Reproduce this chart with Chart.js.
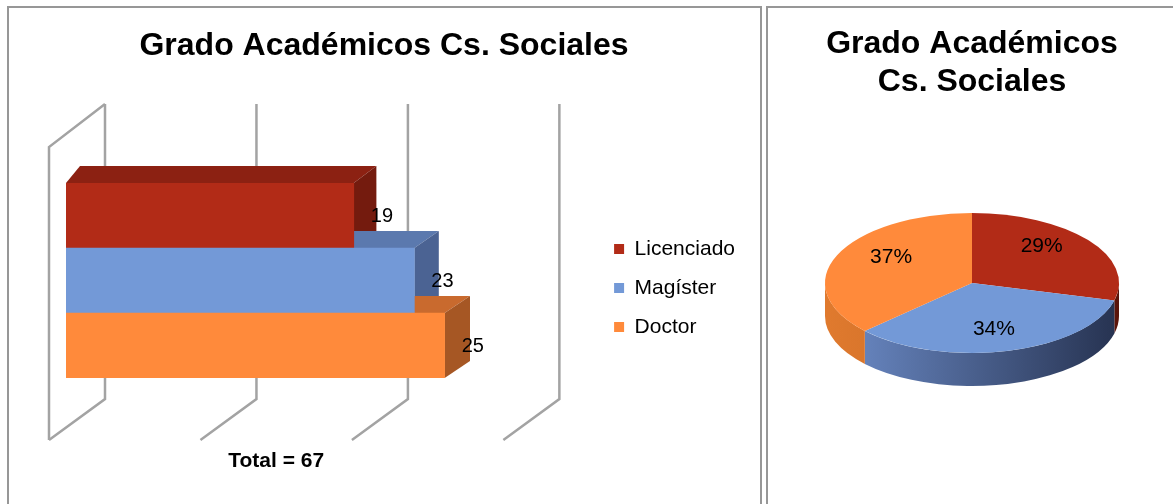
<!DOCTYPE html>
<html>
<head>
<meta charset="utf-8">
<script src="https://cdn.jsdelivr.net/npm/chart.js@4.4.1/dist/chart.umd.min.js"></script>
<style>
  html, body { margin: 0; padding: 0; background: #fff; }
  body { width: 1173px; height: 504px; position: relative; overflow: hidden; }
  .panel { position: absolute; top: 6px; height: 540px; border: 2px solid #979797; box-sizing: border-box; }
  #leftPanel { left: 7px; width: 755px; }
  #rightPanel { left: 766px; width: 440px; }
  canvas { position: absolute; top: 0; }
  #barChart { left: 0; }
  #pieChart { left: 767px; }
</style>
</head>
<body>
<div class="panel" id="leftPanel"></div>
<div class="panel" id="rightPanel"></div>
<canvas id="barChart" width="760" height="504"></canvas>
<canvas id="pieChart" width="406" height="504"></canvas>
<script>
// datos
const categories = ['Licenciado', 'Magíster', 'Doctor'];
const counts = [19, 23, 25];
const pieShares = [29, 34, 37];
const axisTicks = [0, 10, 20, 30];
const total = counts.reduce((s, v) => s + v, 0);

// colores
const frontColors = ['#B22B17', '#7399D7', '#FF8A3B'];
const topColors = ['#8C2112', '#5B79AE', '#C96A2E'];
const sideColors = ['#741B0E', '#4B6393', '#A65724'];
const pieSideLight = ['#8E2114', '#6E8ECB', '#E07A2E'];
const pieSideDark = ['#5A140A', '#263250', '#B05C20'];

const FONT = "'Liberation Sans', Arial, sans-serif";
Chart.defaults.font.family = FONT;
Chart.defaults.color = '#000';

// paredes, caras 3D de las barras y rótulos
const bar3d = {
    id: 'bar3d',
    beforeDatasetsDraw(chart) {
        const { ctx, chartArea: a, scales: { x } } = chart;
        const backTop = a.top - 79;
        const floorBack = a.bottom + 21;
        const floorFront = a.bottom + 62;

        ctx.save();
        ctx.strokeStyle = '#a3a3a3';
        ctx.lineWidth = 2.5;
        axisTicks.forEach(v => {
            const xb = x.getPixelForValue(v) + 39;
            ctx.beginPath();
            ctx.moveTo(xb, backTop);
            ctx.lineTo(xb, floorBack);
            ctx.lineTo(xb - 56, floorFront);
            ctx.stroke();
        });
        const x0 = x.getPixelForValue(0);
        ctx.beginPath();
        ctx.moveTo(x0 - 17, floorFront);
        ctx.lineTo(x0 - 17, backTop + 43);
        ctx.lineTo(x0 + 39, backTop);
        ctx.stroke();

        const depthX = px => 14 + (px - a.left) * 0.03;
        const dy = 17;
        const bars = chart.getDatasetMeta(0).data;
        bars.forEach((bar, i) => {
            const { x: x1, y, base, height } = bar.getProps(['x', 'y', 'base', 'height'], true);
            const top = y - height / 2;
            const bottom = y + height / 2;
            ctx.fillStyle = topColors[i];
            ctx.beginPath();
            ctx.moveTo(base, top);
            ctx.lineTo(base + depthX(base), top - dy);
            ctx.lineTo(x1 + depthX(x1), top - dy);
            ctx.lineTo(x1, top);
            ctx.closePath();
            ctx.fill();
            ctx.fillStyle = sideColors[i];
            ctx.beginPath();
            ctx.moveTo(x1, top);
            ctx.lineTo(x1 + depthX(x1), top - dy);
            ctx.lineTo(x1 + depthX(x1), bottom - dy);
            ctx.lineTo(x1, bottom);
            ctx.closePath();
            ctx.fill();
        });
        ctx.restore();
    },
    afterDatasetsDraw(chart) {
        const { ctx, chartArea: a, scales: { x } } = chart;
        ctx.save();
        ctx.font = '20px ' + FONT;
        ctx.fillStyle = '#000';
        ctx.textAlign = 'left';
        ctx.textBaseline = 'middle';
        chart.getDatasetMeta(0).data.forEach((bar, i) => {
            ctx.fillText(counts[i], bar.x + 17, bar.y + 1);
        });
        // total centrado bajo el piso
        const left = x.getPixelForValue(axisTicks[0]) - 17;
        const right = x.getPixelForValue(axisTicks[axisTicks.length - 1]) - 17;
        ctx.font = 'bold 21px ' + FONT;
        ctx.textAlign = 'center';
        ctx.fillText('Total = ' + total, (left + right) / 2, a.bottom + 83);
        ctx.restore();
    }
};

new Chart(document.getElementById('barChart'), {
    type: 'bar',
    data: {
        labels: categories,
        datasets: [{
            data: counts,
            backgroundColor: frontColors,
            borderWidth: 0,
            barPercentage: 1,
            categoryPercentage: 1
        }]
    },
    options: {
        indexAxis: 'y',
        responsive: false,
        animation: false,
        events: [],
        layout: { padding: { left: 23, right: 15, top: 0, bottom: 126 } },
        scales: {
            x: {
                display: false,
                min: 0,
                max: 35
            },
            y: {
                position: 'left',
                ticks: { display: false },
                grid: { display: false, drawTicks: false },
                border: { display: false },
                afterFit(scale) { scale.width = 43; }
            }
        },
        plugins: {
            title: {
                display: true,
                text: 'Grado Académicos Cs. Sociales',
                font: { size: 32, weight: 'bold' },
                padding: { top: 26.6, bottom: 118 }
            },
            legend: {
                position: 'right',
                fullSize: false,
                title: { display: true, text: '', font: { size: 10 }, padding: { top: 0, bottom: 3 } },
                labels: {
                    boxWidth: 10,
                    boxHeight: 10,
                    padding: 18,
                    font: { size: 21 },
                    generateLabels: () => categories.map((c, i) => ({
                        text: c,
                        fillStyle: frontColors[i],
                        strokeStyle: frontColors[i],
                        lineWidth: 0,
                        hidden: false,
                        index: i
                    }))
                }
            },
            tooltip: { enabled: false }
        }
    },
    plugins: [bar3d]
});

// torta 3D: se aplasta el círculo y se dibuja el canto
const pie3d = {
    id: 'pie3d',
    beforeDatasetsDraw(chart) {
        const { ctx } = chart;
        const arcs = chart.getDatasetMeta(0).data;
        const { x: cx, y: cy, outerRadius: r } = arcs[0];
        const ry = r * 0.476;
        const depth = 33;
        arcs.forEach((arc, i) => {
            const a0 = Math.max(arc.startAngle, 0);
            const a1 = Math.min(arc.endAngle, Math.PI);
            if (a1 <= a0) return;
            const g = ctx.createLinearGradient(cx - r, 0, cx + r, 0);
            g.addColorStop(0, pieSideLight[i]);
            g.addColorStop(1, pieSideDark[i]);
            ctx.beginPath();
            ctx.ellipse(cx, cy, r, ry, 0, a0, a1);
            ctx.ellipse(cx, cy + depth, r, ry, 0, a1, a0, true);
            ctx.closePath();
            ctx.fillStyle = g;
            ctx.fill();
        });
        ctx.save();
        ctx.translate(cx, cy);
        ctx.scale(1, ry / r);
        ctx.translate(-cx, -cy);
    },
    afterDatasetsDraw(chart) {
        const { ctx } = chart;
        ctx.restore();
        const arcs = chart.getDatasetMeta(0).data;
        const { x: cx, y: cy, outerRadius: r } = arcs[0];
        const ry = r * 0.476;
        ctx.save();
        ctx.font = '21px ' + FONT;
        ctx.fillStyle = '#000';
        ctx.textAlign = 'center';
        ctx.textBaseline = 'middle';
        arcs.forEach((arc, i) => {
            const mid = (arc.startAngle + arc.endAngle) / 2;
            const lx = cx + 0.6 * r * Math.cos(mid);
            const ly = cy - 5 + 0.75 * ry * Math.sin(mid);
            ctx.fillText(pieShares[i] + '%', lx, ly);
        });
        ctx.restore();
    }
};

new Chart(document.getElementById('pieChart'), {
    type: 'pie',
    data: {
        labels: categories,
        datasets: [{
            data: pieShares,
            backgroundColor: frontColors,
            borderWidth: 0
        }]
    },
    options: {
        responsive: false,
        animation: false,
        events: [],
        layout: { padding: { left: 58, right: 54, top: 0, bottom: 74 } },
        plugins: {
            title: {
                display: true,
                text: ['Grado Académicos', 'Cs. Sociales'],
                font: { size: 32, weight: 'bold' },
                padding: { top: 24.8, bottom: 34.4 }
            },
            legend: { display: false },
            tooltip: { enabled: false }
        }
    },
    plugins: [pie3d]
});
</script>
</body>
</html>
